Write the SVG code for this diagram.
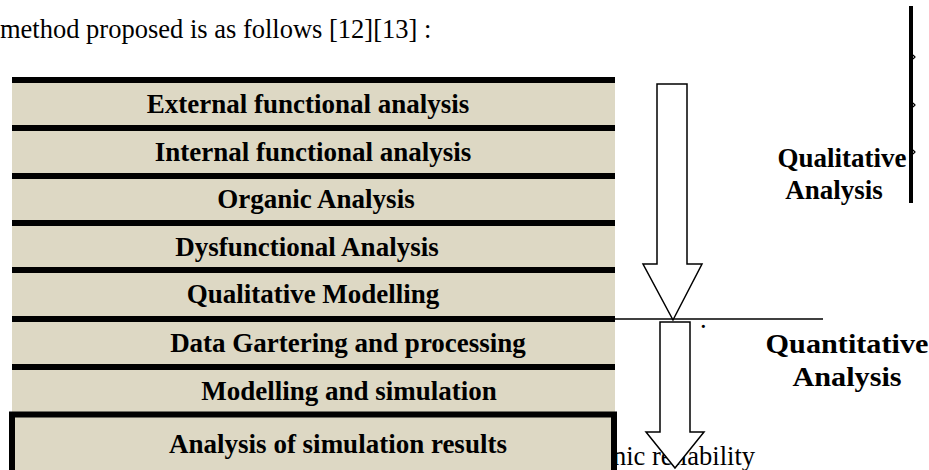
<svg xmlns="http://www.w3.org/2000/svg" width="929" height="470" viewBox="0 0 929 470">
<style>
.row{fill:#DDD8C4}
.bar{fill:#000}
.t{font-family:"Liberation Serif","Times New Roman",serif;font-weight:bold;font-size:27px;fill:#000;text-anchor:middle}
.r{font-family:"Liberation Serif","Times New Roman",serif;font-size:26.5px;fill:#000}
.arrow{fill:#fff;stroke:#000;stroke-width:1.5;stroke-linejoin:miter}
</style>
<rect width="929" height="470" fill="#fff"/>
<text class="r" x="0" y="38">method proposed is as follows [12][13] :</text>
<text class="r" x="755" y="465" text-anchor="end">onic reliability</text>
<g id="table">
<rect class="row" x="12" y="80" width="603" height="336"/>
<rect class="bar" x="12" y="77" width="603" height="6"/>
<rect class="bar" x="12" y="125" width="603" height="6"/>
<rect class="bar" x="12" y="173" width="603" height="6"/>
<rect class="bar" x="12" y="220" width="603" height="6"/>
<rect class="bar" x="12" y="267" width="603" height="6"/>
<rect class="bar" x="12" y="316" width="603" height="6"/>
<rect class="bar" x="12" y="364" width="603" height="6"/>
</g>
<g id="n1"><text class="t" x="308" y="113">External functional analysis</text></g>
<g id="n2"><text class="t" x="313" y="161">Internal functional analysis</text></g>
<g id="n3"><text class="t" x="316" y="208">Organic Analysis</text></g>
<g id="n4"><text class="t" x="307" y="256">Dysfunctional Analysis</text></g>
<g id="n5"><text class="t" x="313" y="303">Qualitative Modelling</text></g>
<g id="n6"><text class="t" x="348" y="352">Data Gartering and processing</text></g>
<g id="n7"><text class="t" x="349" y="400">Modelling and simulation</text></g>
<g id="n8">
<rect x="12" y="414.5" width="602" height="62" fill="#DDD8C4" stroke="#000" stroke-width="6"/>
<text class="t" x="338" y="453">Analysis of simulation results</text>
</g>
<g id="connectors">
<line x1="615" y1="319" x2="823" y2="319" stroke="#000" stroke-width="1.5"/>
<path class="arrow" d="M657,84 H687 V264 H702 L673,320 L643,264 H657 Z"/>
<path class="arrow" d="M660,322 H690 V432 H704 L675,468 L646,432 H660 Z"/>
<rect x="909" y="6" width="4" height="197" fill="#000"/>
<path d="M913,55 l2,2 l-2,2 M913,103 l2,2 l-2,2 M913,150 l2,2 l-2,2" fill="none" stroke="#000" stroke-width="1.2"/>
</g>
<text class="r" x="700" y="328" font-size="10">.</text>
<g id="qual"><text class="t" x="842" y="167" font-size="28">Qualitative</text><text class="t" x="834" y="199" font-size="28">Analysis</text></g>
<g id="quant"><text class="t" font-size="30" transform="translate(847,353) scale(1.12,1)">Quantitative</text><text class="t" font-size="30" transform="translate(847,386) scale(1.12,1)">Analysis</text></g>
</svg>
